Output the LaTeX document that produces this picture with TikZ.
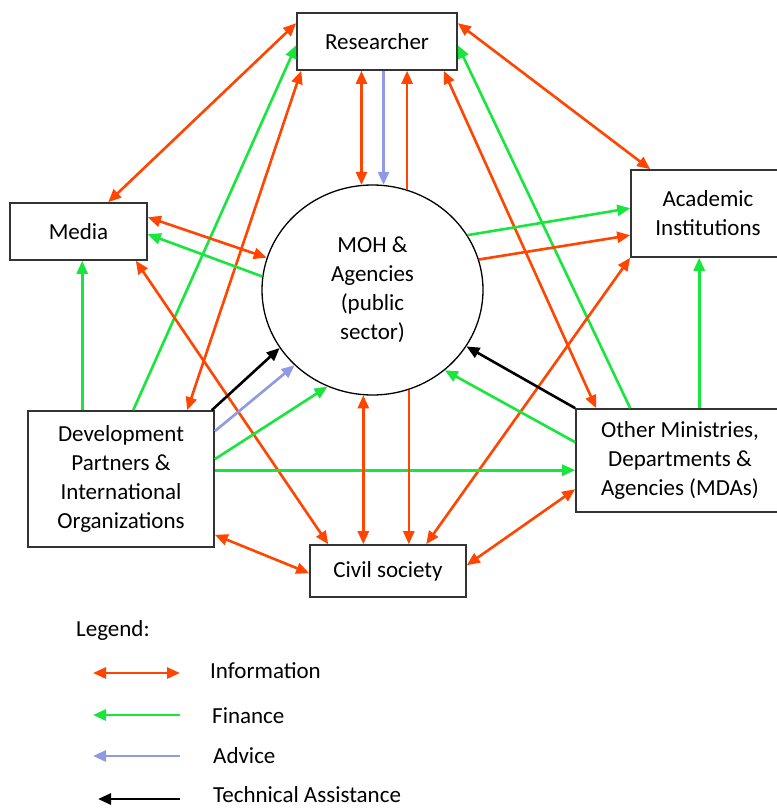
\documentclass[tikz,border=0pt]{standalone}
\usepackage{fontspec}
\setmainfont{Carlito}
\usetikzlibrary{arrows.meta,calc,shapes.geometric}
\definecolor{infoc}{RGB}{255,69,0}
\definecolor{finc}{RGB}{24,230,60}
\definecolor{advc}{RGB}{143,153,230}
\definecolor{boxc}{RGB}{51,51,51}
\begin{document}
\begin{tikzpicture}[x=1pt,y=-1pt,
  >={Triangle[length=13pt,width=11pt]},
  txt/.style={font=\fontsize{23}{29}\selectfont},
  box/.style={draw=boxc,line width=1.6pt,rectangle,inner sep=0pt,align=center,txt},
  info/.style={draw=infoc,line width=2.6pt,<->},
  info1/.style={draw=infoc,line width=2.6pt,->},
  fin/.style={draw=finc,line width=2.6pt,->},
  adv/.style={draw=advc,line width=2.6pt,->},
  ta/.style={draw=black,line width=2.6pt,->},
  lbl/.style={anchor=west,inner sep=0pt,txt}]
\useasboundingbox (0,0) rectangle (776,808);
\fill[white] (0,0) rectangle (776,808);

% nodes
\node[box,minimum width=160pt,minimum height=57pt] (res) at (377,41.5) {Researcher};
\node[box,minimum width=137pt,minimum height=57pt] (media) at (78.5,231.5) {Media};
\node[box,minimum width=154pt,minimum height=87pt] (acad) at (708,213.5) {Academic\\Institutions};
\node[box,minimum width=186pt,minimum height=136pt] (dev) at (121,479) {Development\\Partners \&\\International\\Organizations};
\node[box,minimum width=156pt,minimum height=52pt] (civil) at (388,571) {Civil society};
\node[box,minimum width=208pt,minimum height=103pt] (mdas) at (680,460.5) {Other Ministries,\\Departments \&\\Agencies (MDAs)};
\node[draw=black,line width=1.3pt,ellipse,minimum width=221pt,minimum height=210pt,inner sep=0pt,align=center,txt] (moh) at (372.5,290) {MOH \&\\Agencies\\(public\\sector)};

% helper coordinates on box borders
\coordinate (devtop) at ($(dev.north west)+(55,0)$);
\coordinate (mdastop) at ($(mdas.north west)+(124,0)$);
\coordinate (devright) at ($(dev.north east)+(0,60)$);

% Researcher links
\draw[info] ($(res.north west)+(0,11)$) -- ($(media.north west)+(99,0)$);
\draw[fin] ($(dev.north west)+(106,0)$) -- ($(res.north west)+(0,33)$);
\draw[info] ($(res.south west)+(5,0)$) -- ($(dev.north west)+(160,0)$);
\draw[info] (moh.96 |- res.south) -- (moh.96);
\draw[adv] (moh.84 |- res.south) -- (moh.84);
\draw[info1] (moh.71) -- (moh.71 |- res.south);
\draw[info] ($(res.south east)+(-14,0)$) -- ($(mdas.north west)+(21,0)$);
\draw[fin] ($(mdas.north west)+(55,0)$) -- ($(res.north east)+(0,33)$);
\draw[info] ($(res.north east)+(0,11)$) -- ($(acad.north west)+(20,0)$);

% Media links
\draw[info] ($(media.north east)+(0,15)$) -- (moh.163);
\draw[fin] (moh.173) -- ($(media.north east)+(0,32)$);
\draw[fin] (devtop) -- (devtop |- media.south);
\draw[info] ($(media.south east)+(-12,0)$) -- ($(civil.north west)+(19,0)$);

% Academic links
\draw[fin] (moh.30) -- ($(acad.north west)+(0,39)$);
\draw[info1] (moh.16) -- ($(acad.north west)+(0,66)$);
\draw[info] (acad.south west) -- ($(civil.north west)+(117,0)$);
\draw[fin] (mdastop) -- (mdastop |- acad.south);

% Development partners links
\draw[ta] ($(dev.north east)+(-3,0)$) -- (moh.212);
\draw[adv] ($(dev.north east)+(0,21)$) -- (moh.224);
\draw[fin] ($(dev.north east)+(0,49)$) -- (moh.245);
\draw[fin] (devright) -- (devright -| mdas.west);
\draw[info] ($(dev.south east)+(0,-13)$) -- ($(civil.north west)+(0,29)$);

% Civil society links
\draw[info] (moh.265) -- (moh.265 |- civil.north);
\draw[info1] (moh.290) -- (moh.290 |- civil.north);
\draw[info] ($(civil.north east)+(0,21)$) -- ($(mdas.north west)+(0,81)$);

% MDAs links
\draw[ta] (mdas.north west) -- (moh.329);
\draw[fin] ($(mdas.north west)+(0,34)$) -- (moh.312);

% Legend
\node[lbl] (leg) at (76,630) {Legend:};
\node[lbl] (linfo) at (210,671) {Information};
\node[lbl] (lfin) at (212,716) {Finance};
\node[lbl] (ladv) at (213,756) {Advice};
\node[lbl] (lta) at (213,795) {Technical Assistance};
\coordinate (a1) at (93,673); \coordinate (b1) at (180,673);
\coordinate (a2) at (93,715); \coordinate (b2) at (180,715);
\coordinate (a3) at (93,756); \coordinate (b3) at (180,756);
\coordinate (a4) at (98,799); \coordinate (b4) at (180,799);
\draw[info] (a1) -- (b1);
\draw[fin] (b2) -- (a2);
\draw[adv] (b3) -- (a3);
\draw[ta] (b4) -- (a4);
\end{tikzpicture}
\end{document}
